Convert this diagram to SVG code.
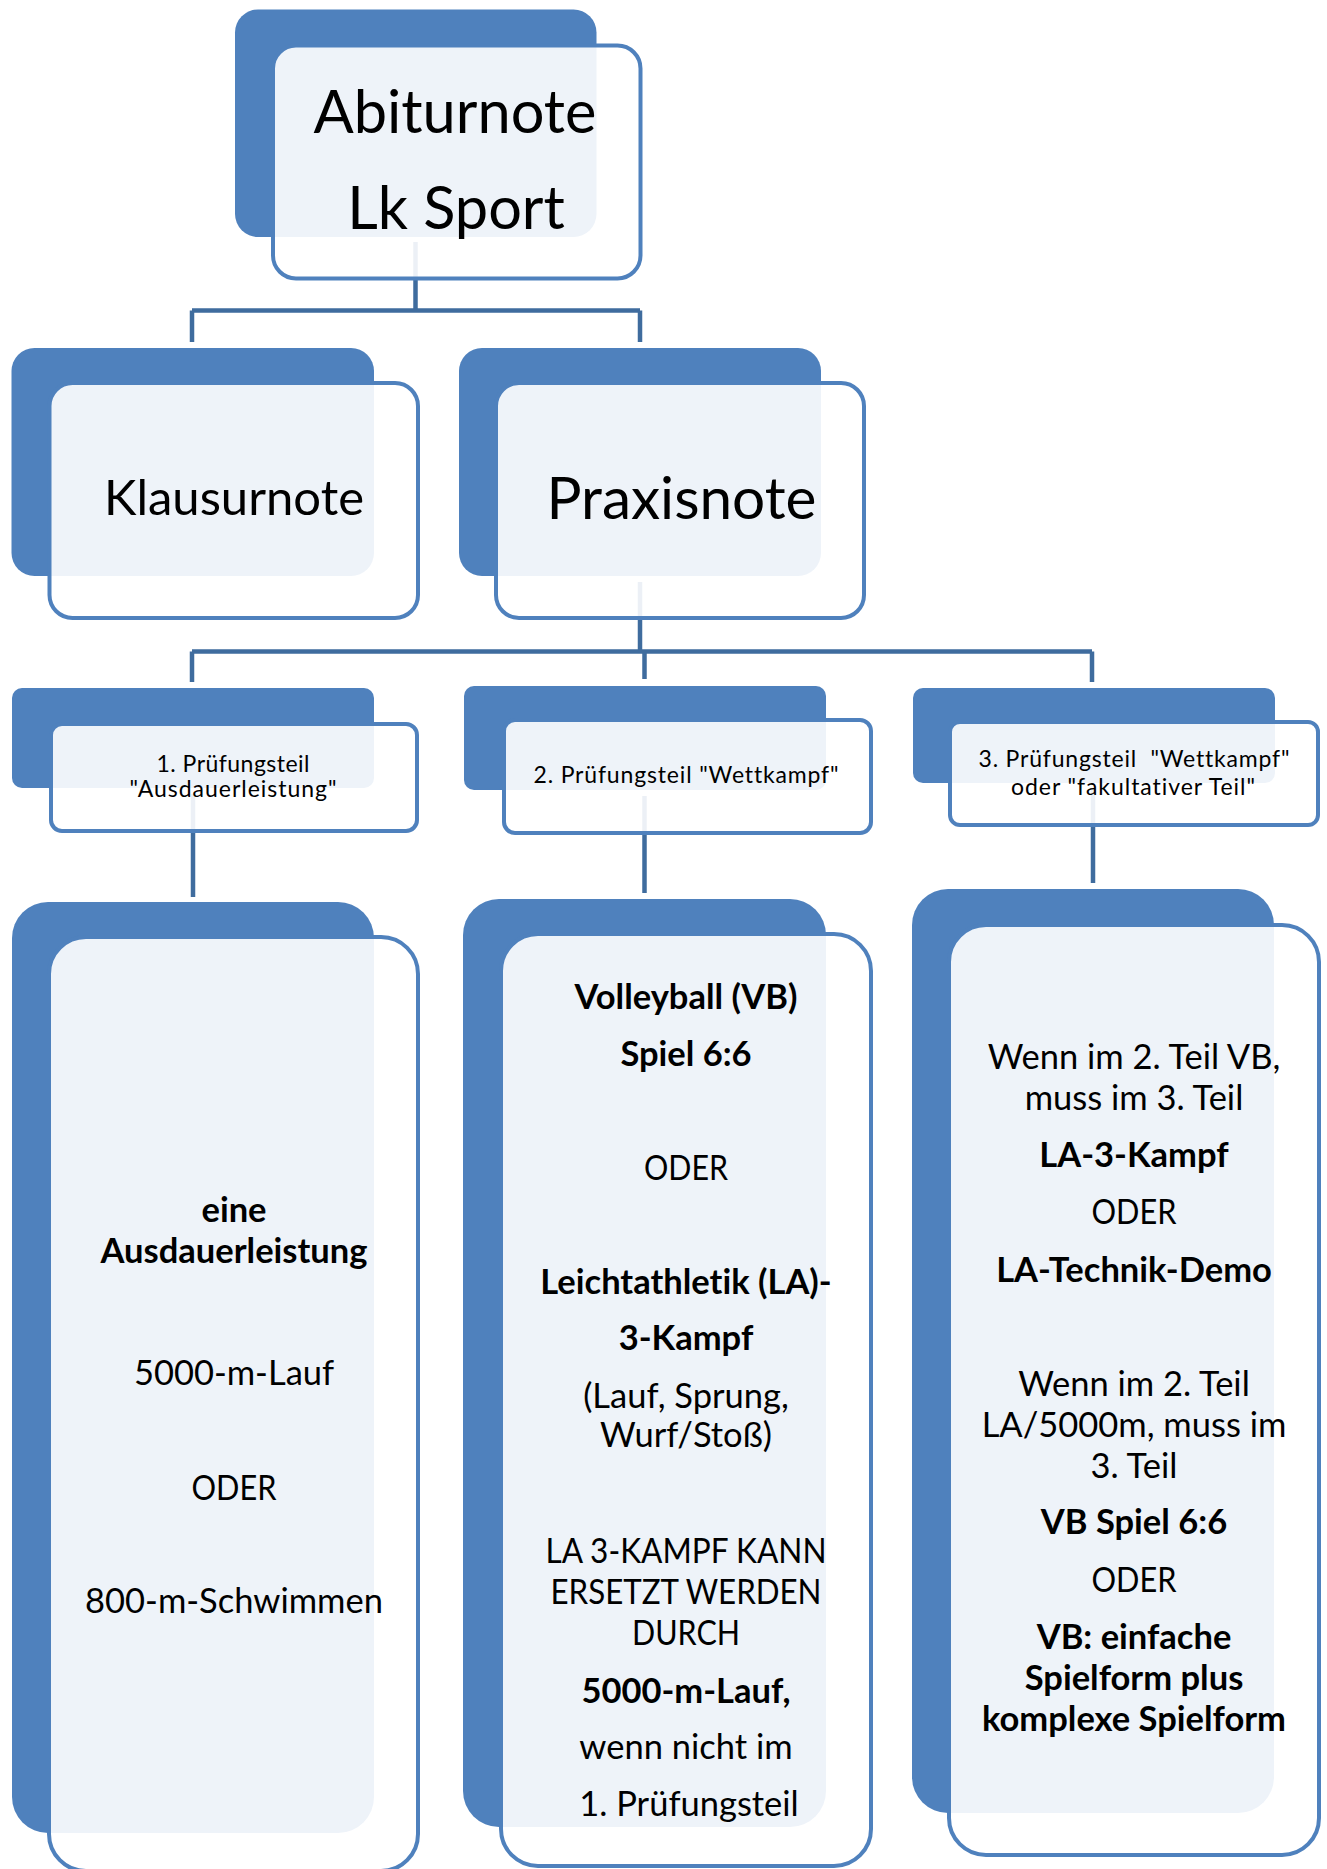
<svg xmlns="http://www.w3.org/2000/svg" width="1327" height="1869" viewBox="0 0 1327 1869">
<style>
.back{fill:#4F81BD}
.front{fill:#FFFFFF;fill-opacity:0.9;stroke:#4F81BD;stroke-width:4}
.conn{fill:none;stroke:#3F6C9E;stroke-width:4.5}
text{font-family:Lato,"Liberation Sans",sans-serif;fill:#000000;text-anchor:middle;font-variant-ligatures:none;font-feature-settings:"liga" 0,"clig" 0}
.b{font-weight:bold}
.l1{font-size:59.5px}
.l3{font-size:23px}
.l4{font-size:34.5px}
</style>
<rect width="1327" height="1869" fill="#FFFFFF"/>
<g id="connectors">
<path class="conn" d="M415.5 242V310.5M192 310.5H640M192 310.5V342M640 310.5V342"/>
<path class="conn" d="M640 582V651.5M192 651.5H1092M192 651.5V682M644.5 651.5V679M1092 651.5V682"/>
<path class="conn" d="M193 794V897M644.5 796V893M1093 789V883"/>
</g>
<g id="node-abiturnote">
<rect class="back" x="235" y="9.5" width="361.5" height="227.5" rx="23"/>
<rect class="front" x="273" y="45.5" width="367.5" height="233" rx="23"/>
<text class="l1" x="455" y="133">Abiturnote</text>
<text class="l1" x="456" y="229">Lk Sport</text>
</g>
<g id="node-klausurnote">
<rect class="back" x="11.5" y="348" width="362.5" height="228" rx="23"/>
<rect class="front" x="49.5" y="383" width="368.5" height="235" rx="23"/>
<text x="234" y="515" style="font-size:49px">Klausurnote</text>
</g>
<g id="node-praxisnote">
<rect class="back" x="459" y="348" width="362" height="228" rx="23"/>
<rect class="front" x="496" y="383" width="368" height="235" rx="23"/>
<text x="681.5" y="519" style="font-size:58.5px">Praxisnote</text>
</g>
<g id="node-teil1">
<rect class="back" x="12" y="688" width="362" height="100" rx="10"/>
<rect class="front" x="51" y="724" width="366" height="107" rx="11"/>
<text class="l3" x="233" y="772" textLength="153">1. Prüfungsteil</text>
<text class="l3" x="233" y="797" textLength="207">"Ausdauerleistung"</text>
</g>
<g id="node-teil2">
<rect class="back" x="464" y="686" width="362" height="104" rx="10"/>
<rect class="front" x="504" y="720" width="367" height="113" rx="11"/>
<text class="l3" x="686" y="783" textLength="305">2. Prüfungsteil "Wettkampf"</text>
</g>
<g id="node-teil3">
<rect class="back" x="913" y="688" width="362" height="95" rx="10"/>
<rect class="front" x="950" y="722" width="368" height="103" rx="10"/>
<text class="l3" x="1134" y="767" textLength="311" xml:space="preserve">3. Prüfungsteil  "Wettkampf"</text>
<text class="l3" x="1133" y="795" textLength="244">oder "fakultativer Teil"</text>
</g>
<g id="node-ausdauer">
<rect class="back" x="12" y="902" width="362" height="931" rx="36"/>
<rect class="front" x="49" y="937" width="369" height="934" rx="37"/>
<text class="l4 b" x="234" y="1222">eine</text>
<text class="l4 b" x="234" y="1263">Ausdauerleistung</text>
<text class="l4" x="234" y="1385">5000-m-Lauf</text>
<text class="l4" x="234" y="1500" textLength="85" lengthAdjust="spacingAndGlyphs">ODER</text>
<text class="l4" x="234" y="1613">800-m-Schwimmen</text>
</g>
<g id="node-wettkampf">
<rect class="back" x="463" y="899" width="363" height="928" rx="36"/>
<rect class="front" x="501" y="934" width="370" height="932" rx="37"/>
<text class="l4 b" x="686" y="1009">Volleyball (VB)</text>
<text class="l4 b" x="686" y="1066">Spiel 6:6</text>
<text class="l4" x="686" y="1180" textLength="84" lengthAdjust="spacingAndGlyphs">ODER</text>
<text class="l4 b" x="686" y="1294">Leichtathletik (LA)-</text>
<text class="l4 b" x="686" y="1350">3-Kampf</text>
<text class="l4" x="686" y="1408">(Lauf, Sprung,</text>
<text class="l4" x="686" y="1447">Wurf/Stoß)</text>
<text class="l4" x="686" y="1563" textLength="281" lengthAdjust="spacingAndGlyphs">LA 3-KAMPF KANN</text>
<text class="l4" x="686" y="1604" textLength="271" lengthAdjust="spacingAndGlyphs">ERSETZT WERDEN</text>
<text class="l4" x="686" y="1645" textLength="108" lengthAdjust="spacingAndGlyphs">DURCH</text>
<text class="l4 b" x="686" y="1703">5000-m-Lauf,</text>
<text class="l4" x="686" y="1759">wenn nicht im</text>
<text class="l4" x="689" y="1816">1. Prüfungsteil</text>
</g>
<g id="node-teil3-inhalt">
<rect class="back" x="912" y="889" width="362" height="924" rx="36"/>
<rect class="front" x="949" y="925" width="370" height="930" rx="37"/>
<text class="l4" x="1134" y="1069">Wenn im 2. Teil VB,</text>
<text class="l4" x="1134" y="1110">muss im 3. Teil</text>
<text class="l4 b" x="1134" y="1167">LA-3-Kampf</text>
<text class="l4" x="1134" y="1224" textLength="85" lengthAdjust="spacingAndGlyphs">ODER</text>
<text class="l4 b" x="1134" y="1282">LA-Technik-Demo</text>
<text class="l4" x="1134" y="1396">Wenn im 2. Teil</text>
<text class="l4" x="1134" y="1437">LA/5000m, muss im</text>
<text class="l4" x="1134" y="1478">3. Teil</text>
<text class="l4 b" x="1134" y="1534">VB Spiel 6:6</text>
<text class="l4" x="1134" y="1592" textLength="85" lengthAdjust="spacingAndGlyphs">ODER</text>
<text class="l4 b" x="1134" y="1649">VB: einfache</text>
<text class="l4 b" x="1134" y="1690">Spielform plus</text>
<text class="l4 b" x="1134" y="1731">komplexe Spielform</text>
</g>
</svg>
